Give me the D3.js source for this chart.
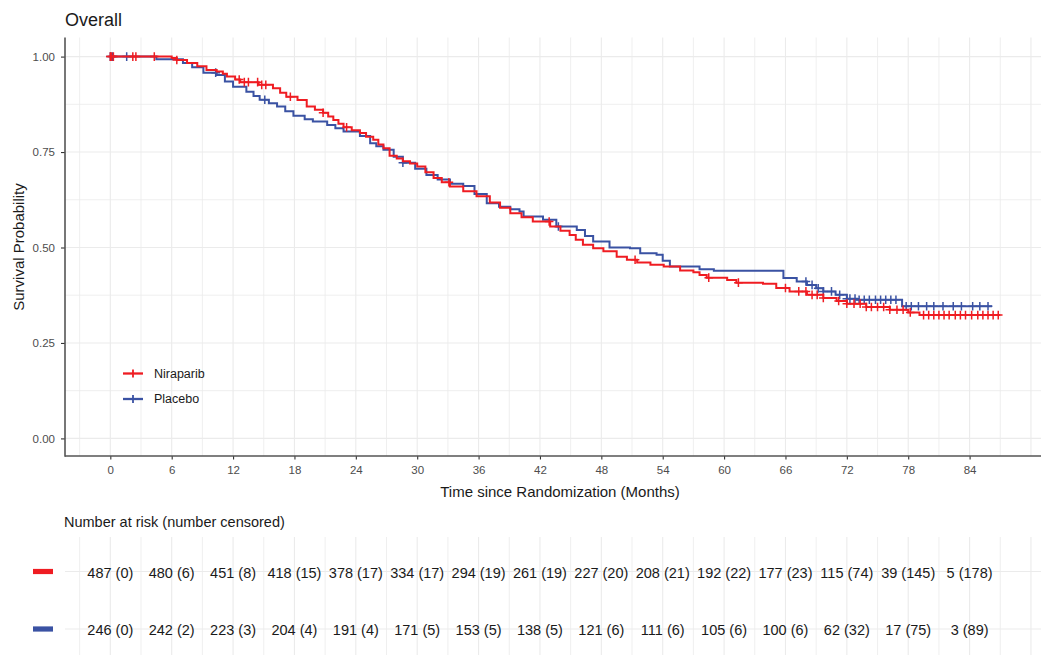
<!DOCTYPE html>
<html>
<head>
<meta charset="utf-8">
<script src="https://cdn.jsdelivr.net/npm/d3@7"></script>
<style>
  body { margin: 0; background: #fff; }
  text { font-family: "Liberation Sans", Arial, sans-serif; }
</style>
</head>
<body>
<div id="chart"></div>
<script>
// KM step points: [months, survival]
const niraparibSteps = [
  [0, 1], [6.0, 0.996], [6.5, 0.991], [7.5, 0.983], [8.5, 0.975], [9.4, 0.965], [10.4, 0.961],
  [11.0, 0.955], [11.4, 0.948], [12.2, 0.94], [12.7, 0.933], [14.5, 0.926], [15.9, 0.917],
  [16.6, 0.905], [17.2, 0.895], [18.3, 0.886], [19.2, 0.869], [20.0, 0.861], [20.8, 0.853],
  [21.3, 0.843], [21.8, 0.834], [22.3, 0.824], [22.8, 0.815], [23.6, 0.807], [24.4, 0.8],
  [25.0, 0.79], [25.7, 0.782], [26.2, 0.77], [26.7, 0.76], [27.3, 0.74], [28.0, 0.733],
  [28.6, 0.726], [29.3, 0.72], [30.0, 0.712], [30.8, 0.697], [31.6, 0.682], [32.4, 0.671],
  [33.2, 0.66], [34.5, 0.647], [35.8, 0.634], [37.1, 0.618], [38.1, 0.604], [39.1, 0.59],
  [40.2, 0.579], [41.3, 0.568], [43.0, 0.555], [44.0, 0.544], [44.9, 0.533], [45.5, 0.52],
  [46.2, 0.507], [47.2, 0.498], [48.2, 0.49], [49.5, 0.476], [50.5, 0.468], [51.5, 0.461],
  [52.8, 0.455], [54.1, 0.45], [55.7, 0.44], [57.0, 0.435], [57.6, 0.428], [58.3, 0.421],
  [60.3, 0.415], [61.2, 0.408], [63.8, 0.405], [65.1, 0.394], [66.4, 0.385], [68.1, 0.376],
  [69.7, 0.368], [71.0, 0.36], [72.0, 0.353], [73.9, 0.344], [76.2, 0.337], [78.0, 0.33],
  [79.1, 0.323],
];
const niraparibEnd = 87.0;

const placeboSteps = [
  [0, 1], [4.5, 0.993], [7.1, 0.983], [8.0, 0.972], [9.1, 0.958], [10.4, 0.952], [11.2, 0.935],
  [12.0, 0.921], [13.3, 0.908], [14.0, 0.897], [14.6, 0.887], [15.5, 0.878], [16.3, 0.869],
  [17.1, 0.857], [17.9, 0.845], [19.0, 0.836], [19.8, 0.83], [21.2, 0.821], [22.0, 0.812],
  [22.8, 0.804], [24.4, 0.792], [25.4, 0.773], [26.0, 0.765], [26.7, 0.756], [27.7, 0.738],
  [28.6, 0.722], [29.8, 0.706], [30.9, 0.69], [32.0, 0.678], [33.2, 0.667], [34.5, 0.661],
  [35.6, 0.64], [36.8, 0.616], [38.0, 0.607], [39.1, 0.6], [40.0, 0.594], [40.4, 0.581],
  [42.3, 0.573], [43.6, 0.555], [45.6, 0.546], [46.4, 0.53], [47.2, 0.516], [48.8, 0.5],
  [50.8, 0.498], [51.8, 0.485], [53.4, 0.481], [54.0, 0.465], [54.7, 0.45], [57.6, 0.443],
  [59.0, 0.439], [65.8, 0.42], [67.1, 0.411], [68.1, 0.402], [69.0, 0.393], [69.7, 0.385],
  [70.9, 0.376], [72.0, 0.366], [73.0, 0.363], [77.4, 0.346],
];
const placeboEnd = 86.2;

// censoring times (months)
const niraparibCensor = [
  0, 0.1, 0.3, 2.2, 2.5, 4.3, 6.5, 12.6, 13.1, 13.5, 14.4, 14.8, 15.2, 17.6, 20.8, 23.1, 33.1,
  42.9, 51.3, 58.5, 61.4, 66.0, 67.3, 68.0, 68.6, 69.1, 69.7, 71.2, 72.0, 72.7, 73.3, 73.9,
  74.4, 75.0, 75.6, 76.2, 76.9, 77.5, 78.2, 79.5, 80.0, 80.5, 81.0, 81.5, 82.0, 82.6, 83.1,
  83.6, 84.2, 84.8, 85.3, 85.8, 86.3, 86.8,
];
const placeboCensor = [
  0, 0.2, 1.6, 10.3, 15.1, 28.6, 43.8, 68.0, 68.6, 69.2, 69.7, 70.5, 71.3, 72.0, 72.3, 72.8,
  73.2, 73.7, 74.2, 74.8, 75.3, 75.8, 76.3, 76.8, 77.8, 78.3, 79.0, 79.8, 80.5, 81.4, 82.4,
  83.2, 84.3, 85.0, 85.8,
];

const riskTimes = [0, 6, 12, 18, 24, 30, 36, 42, 48, 54, 60, 66, 72, 78, 84];
const niraparibRisk = ["487 (0)", "480 (6)", "451 (8)", "418 (15)", "378 (17)", "334 (17)",
  "294 (19)", "261 (19)", "227 (20)", "208 (21)", "192 (22)", "177 (23)", "115 (74)",
  "39 (145)", "5 (178)"];
const placeboRisk = ["246 (0)", "242 (2)", "223 (3)", "204 (4)", "191 (4)", "171 (5)",
  "153 (5)", "138 (5)", "121 (6)", "111 (6)", "105 (6)", "100 (6)", "62 (32)", "17 (75)",
  "3 (89)"];

const yTicks = [0, 0.25, 0.5, 0.75, 1];
const gridTimes = d3.range(-3, 91, 3);
const gridSurv = d3.range(0, 1.001, 0.125);

const RED = "#EF1C22";
const BLUE = "#3A52A3";

const width = 1043;
const height = 655;
const panel = { left: 65, right: 1041, top: 37.5, bottom: 456 };

const svg = d3.select("#chart").append("svg")
  .attr("width", width)
  .attr("height", height);

const x = d3.scaleLinear().domain([-4.43, 90.98]).range([panel.left, panel.right]);
const y = d3.scaleLinear().domain([-0.05, 1.05]).range([457.5, 37.5]);

// grid
svg.append("g").selectAll("line").data(gridTimes).join("line")
  .attr("x1", (d) => x(d)).attr("x2", (d) => x(d))
  .attr("y1", panel.top).attr("y2", panel.bottom)
  .attr("stroke", "#ebebeb").attr("stroke-width", (d) => (d % 6 === 0 ? 1.1 : 0.8));
svg.append("g").selectAll("line").data(gridSurv).join("line")
  .attr("x1", panel.left).attr("x2", panel.right)
  .attr("y1", (d) => y(d)).attr("y2", (d) => y(d))
  .attr("stroke", "#ebebeb").attr("stroke-width", (d) => (d * 4 % 1 === 0 ? 1.1 : 0.8));

// axes
const xAxis = svg.append("g")
  .attr("transform", `translate(0,${panel.bottom})`)
  .call(d3.axisBottom(x).tickValues(riskTimes).tickSize(3.5).tickPadding(6));
const yAxis = svg.append("g")
  .attr("transform", `translate(${panel.left},0)`)
  .call(d3.axisLeft(y).tickValues(yTicks).tickFormat(d3.format(".2f")).tickSize(4).tickPadding(6));
[xAxis, yAxis].forEach((ax) => {
  ax.select(".domain").remove();
  ax.selectAll(".tick line").attr("stroke", "#333").attr("stroke-width", 1.1);
  ax.selectAll(".tick text").attr("fill", "#4d4d4d").attr("font-size", "11.5px")
    .attr("font-family", "Liberation Sans, Arial, sans-serif");
});
svg.append("line")
  .attr("x1", panel.left).attr("x2", panel.left)
  .attr("y1", panel.top).attr("y2", panel.bottom + 0.8)
  .attr("stroke", "#555").attr("stroke-width", 1.6);
svg.append("line")
  .attr("x1", panel.left).attr("x2", panel.right)
  .attr("y1", panel.bottom).attr("y2", panel.bottom)
  .attr("stroke", "#555").attr("stroke-width", 1.6);

// curves
const line = d3.line()
  .x((d) => x(d[0]))
  .y((d) => y(d[1]))
  .curve(d3.curveStepAfter);

function survAt(steps, t) {
  const i = d3.bisector((d) => d[0]).right(steps, t) - 1;
  return steps[Math.max(0, i)][1];
}

function drawArm(steps, end, censor, color) {
  const pts = steps.concat([[end, steps[steps.length - 1][1]]]);
  svg.append("path")
    .datum(pts)
    .attr("fill", "none")
    .attr("stroke", color)
    .attr("stroke-width", 2)
    .attr("d", line);
  svg.append("g").selectAll("path").data(censor).join("path")
    .attr("d", (t) => {
      const cx = x(t), cy = y(survAt(steps, t));
      return `M${cx - 4.3},${cy}H${cx + 4.3}M${cx},${cy - 4.3}V${cy + 4.3}`;
    })
    .attr("stroke", color)
    .attr("stroke-width", 1.5)
    .attr("fill", "none");
}

drawArm(placeboSteps, placeboEnd, placeboCensor, BLUE);
drawArm(niraparibSteps, niraparibEnd, niraparibCensor, RED);

// legend
const legendItems = [
  { label: "Niraparib", color: RED },
  { label: "Placebo", color: BLUE },
];
legendItems.forEach((item, i) => {
  const g = svg.append("g").attr("transform", `translate(123,${373.5 + i * 25.5})`);
  g.append("line").attr("x1", 0).attr("x2", 20).attr("stroke", item.color).attr("stroke-width", 2.3);
  g.append("path").attr("d", "M10,-4V4").attr("stroke", item.color).attr("stroke-width", 1.8);
  g.append("text").attr("x", 31).attr("dy", "0.35em").attr("font-size", "12.5px")
    .attr("fill", "#1a1a1a").text(item.label);
});

// titles
svg.append("text").attr("x", 65).attr("y", 26).attr("font-size", "18px")
  .attr("fill", "#1a1a1a").text("Overall");
svg.append("text").attr("x", 560).attr("y", 497).attr("text-anchor", "middle")
  .attr("font-size", "15px").attr("fill", "#1a1a1a").text("Time since Randomization (Months)");
svg.append("text").attr("transform", "translate(24,247) rotate(-90)").attr("text-anchor", "middle")
  .attr("font-size", "15px").attr("fill", "#1a1a1a").text("Survival Probability");

// risk table
svg.append("text").attr("x", 64).attr("y", 527).attr("font-size", "14.5px")
  .attr("fill", "#1a1a1a").text("Number at risk (number censored)");

const tableTop = 537;
svg.append("g").selectAll("line").data(gridTimes).join("line")
  .attr("x1", (d) => x(d)).attr("x2", (d) => x(d))
  .attr("y1", tableTop).attr("y2", height)
  .attr("stroke", "#ebebeb").attr("stroke-width", (d) => (d % 6 === 0 ? 1.1 : 0.8));

const rows = [
  { y: 571.5, color: RED, values: niraparibRisk },
  { y: 629, color: BLUE, values: placeboRisk },
];
rows.forEach((row) => {
  svg.append("line").attr("x1", panel.left).attr("x2", panel.right)
    .attr("y1", row.y).attr("y2", row.y).attr("stroke", "#ebebeb").attr("stroke-width", 1.1);
  svg.append("rect").attr("x", 33).attr("y", row.y - 2.6).attr("width", 20).attr("height", 5.2)
    .attr("fill", row.color);
  svg.append("g").selectAll("text").data(row.values).join("text")
    .attr("x", (d, i) => x(riskTimes[i]))
    .attr("y", row.y + 1)
    .attr("dy", "0.35em")
    .attr("text-anchor", "middle")
    .attr("font-size", "14.5px")
    .attr("fill", "#1a1a1a")
    .text((d) => d);
});
</script>
</body>
</html>
